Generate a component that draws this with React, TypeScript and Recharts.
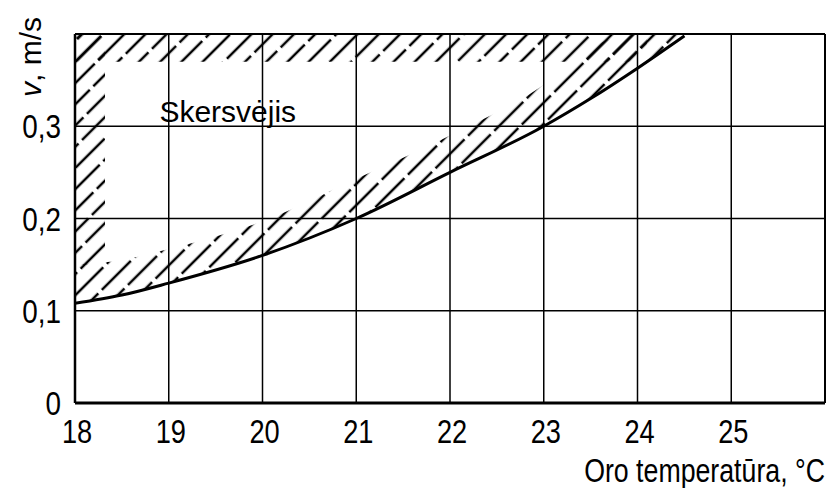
import React from "react";
import {
  ComposedChart,
  Line,
  Area,
  XAxis,
  YAxis,
  CartesianGrid,
  ReferenceArea,
  ReferenceLine,
  ReferenceDot,
} from "recharts";

// air temperature, °C
const temps = [18, 18.5, 19, 20, 21, 22, 23, 23.5, 24, 24.5];
// limit air speed, m/s
const speed = [0.108, 0.117, 0.13, 0.16, 0.2, 0.25, 0.3, 0.33, 0.363, 0.398];
// upper edge of the hatched band above the curve
const hatchTop = [0.15, 0.155, 0.167, 0.197, 0.243, 0.29, 0.345, 0.385, 0.4, 0.4];

const xTicks = [18, 19, 20, 21, 22, 23, 24, 25, 26];
const xTickLabels = ["18", "19", "20", "21", "22", "23", "24", "25", ""];
const yTicks = [0, 0.1, 0.2, 0.3, 0.4];
const yTickLabels = ["0", "0,1", "0,2", "0,3", ""];

const data = temps.map((t, i) => ({ t, v: speed[i], top: hatchTop[i] }));

const SANS = '"Liberation Sans", Arial, sans-serif';

// condensed text: Liberation Sans squeezed horizontally
function NarrowText({ x, y, anchor, size, sx, children }: any) {
  return (
    <text
      transform={`translate(${x}, ${y}) scale(${sx}, 1)`}
      textAnchor={anchor}
      fontFamily={SANS}
      fontSize={size}
      fill="#000"
    >
      {children}
    </text>
  );
}

function XTick(props: any) {
  const i = xTicks.indexOf(props.payload.value);
  return (
    <NarrowText x={props.x + 2} y={props.y + 40} anchor="middle" size={34} sx={0.8}>
      {xTickLabels[i]}
    </NarrowText>
  );
}

function YTick(props: any) {
  const i = yTicks.indexOf(props.payload.value);
  return (
    <NarrowText x={props.x - 14} y={props.y + 12} anchor="end" size={34} sx={0.82}>
      {yTickLabels[i]}
    </NarrowText>
  );
}

export default function App() {
  return (
    <div style={{ position: "absolute", left: 0, top: 0, background: "#fff" }}>
      <ComposedChart
        width={829}
        height={488}
        data={data}
        margin={{ top: 34, right: 4, bottom: 0, left: 0 }}
      >
        <defs>
          {/* dashed 45° hatching, dash breaks staggered between neighbouring strokes */}
          <pattern
            id="hatch"
            patternUnits="userSpaceOnUse"
            width={30}
            height={46}
            patternTransform="rotate(45)"
          >
            <line x1={7} y1={0} x2={7} y2={46} stroke="#000" strokeWidth={2.5} strokeDasharray="41 5" />
            <line
              x1={22}
              y1={0}
              x2={22}
              y2={46}
              stroke="#000"
              strokeWidth={2.5}
              strokeDasharray="41 5"
              strokeDashoffset={22}
            />
          </pattern>
        </defs>
        <CartesianGrid stroke="#000" strokeWidth={1.5} />
        <XAxis
          dataKey="t"
          type="number"
          domain={[18, 26]}
          ticks={xTicks}
          allowDataOverflow
          height={85}
          tickSize={0}
          tickMargin={0}
          tick={<XTick />}
          axisLine={{ stroke: "#000", strokeWidth: 3 }}
          tickLine={false}
          label={({ viewBox }: any) => (
            <NarrowText x={viewBox.x + viewBox.width} y={viewBox.y + 79} anchor="end" size={33} sx={0.81}>
              Oro temperatūra, °C
            </NarrowText>
          )}
        />
        <YAxis
          type="number"
          domain={[0, 0.4]}
          ticks={yTicks}
          width={75}
          tickSize={0}
          tickMargin={0}
          tick={<YTick />}
          axisLine={{ stroke: "#000", strokeWidth: 2.5 }}
          tickLine={false}
          label={({ viewBox }: any) => (
            <text
              transform={`translate(${viewBox.x + 41}, ${viewBox.y + 63}) rotate(-90)`}
              fontFamily={SANS}
              fontSize={30}
              fill="#000"
            >
              <tspan fontStyle="italic">v</tspan>, m/s
            </text>
          )}
        />
        <ReferenceLine x={26} stroke="#000" strokeWidth={2} />
        <ReferenceLine y={0.4} stroke="#000" strokeWidth={2} />
        {/* cross-draught zone: top strip, left strip and band above the curve */}
        <ReferenceArea x1={18} x2={24.1} y1={0.37} y2={0.4} fill="url(#hatch)" fillOpacity={1} stroke="none" />
        <ReferenceArea x1={18} x2={18.32} y1={0.15} y2={0.4} fill="url(#hatch)" fillOpacity={1} stroke="none" />
        <Area
          type="monotone"
          dataKey={(d: any) => [d.v, d.top]}
          stroke="none"
          fill="url(#hatch)"
          fillOpacity={1}
          isAnimationActive={false}
        />
        <Line
          type="monotone"
          dataKey="v"
          stroke="#000"
          strokeWidth={3}
          dot={false}
          isAnimationActive={false}
        />
        <ReferenceDot
          x={18.9}
          y={0.305}
          r={0}
          shape={(p: any) => (
            <text x={p.cx} y={p.cy} fontFamily={SANS} fontSize={30} fill="#000">
              Skersvėjis
            </text>
          )}
        />
      </ComposedChart>
    </div>
  );
}
